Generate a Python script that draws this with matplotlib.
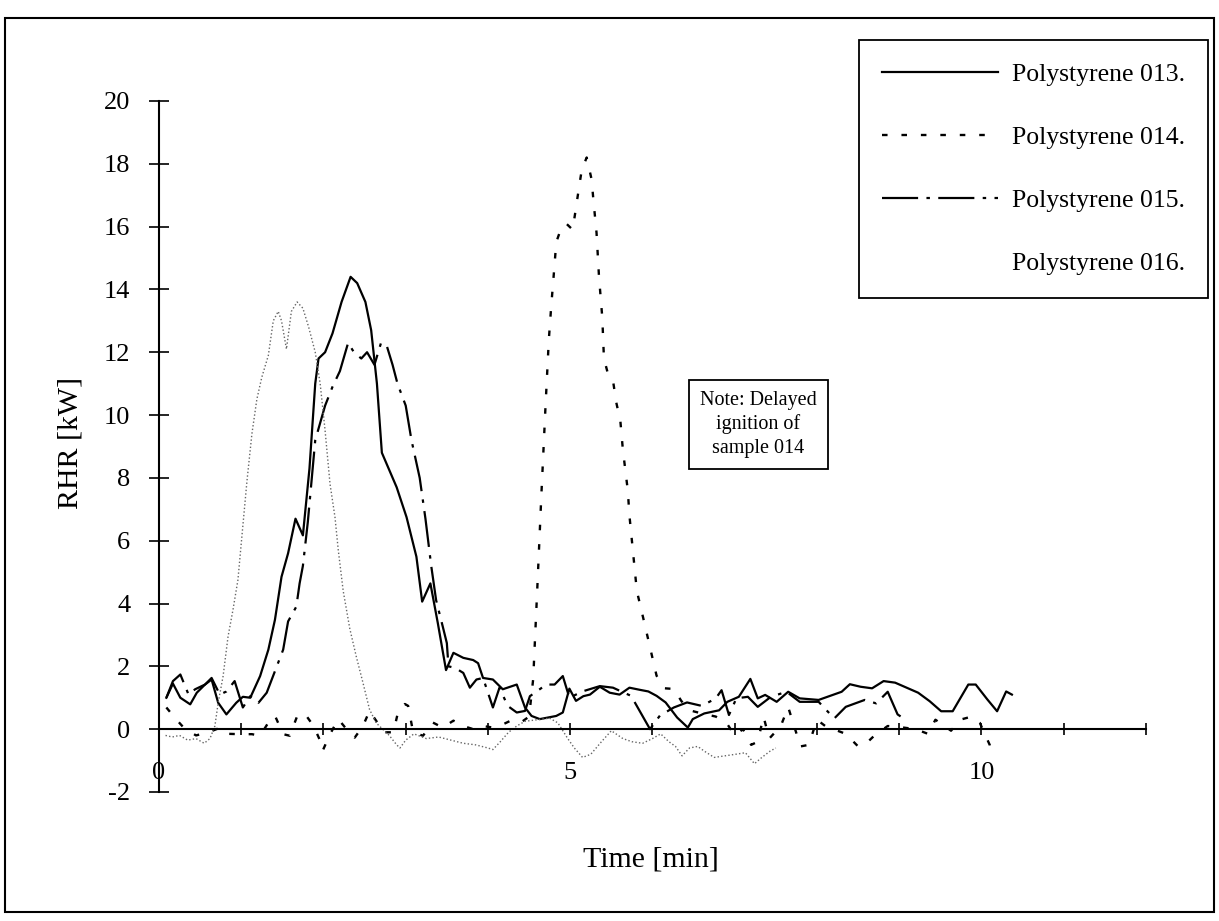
import matplotlib
matplotlib.use("Agg")
import matplotlib.pyplot as plt
from matplotlib.lines import Line2D
from matplotlib.patches import Rectangle

plt.rcParams['font.family'] = ['Liberation Serif', 'DejaVu Serif']
plt.rcParams['lines.scale_dashes'] = False

# ---------------- data ----------------
series_names = ["Polystyrene 013.", "Polystyrene 014.", "Polystyrene 015.", "Polystyrene 016."]

t013 = [0.09, 0.17, 0.26, 0.38, 0.46, 0.56, 0.64, 0.72, 0.82, 0.94, 1.02, 1.11, 1.23, 1.33,
        1.41, 1.49, 1.57, 1.66, 1.75, 1.83, 1.90, 1.94, 2.02, 2.11, 2.22, 2.33, 2.41, 2.51,
        2.58, 2.65, 2.71, 2.89, 3.01, 3.13, 3.20, 3.30, 3.39, 3.49, 3.58, 3.70, 3.82, 3.88,
        3.94, 4.06, 4.18, 4.35, 4.45, 4.53, 4.63, 4.83, 4.91, 4.99, 5.07, 5.16, 5.24, 5.36,
        5.48, 5.60, 5.72, 5.85, 5.95, 6.05, 6.16, 6.30, 6.43, 6.49, 6.63, 6.81, 6.91, 7.05,
        7.19, 7.28, 7.37, 7.51, 7.65, 7.79, 8.02, 8.30, 8.40, 8.53, 8.67, 8.81, 8.95, 9.09,
        9.23, 9.37, 9.51, 9.65, 9.84, 9.93, 10.07, 10.19, 10.30, 10.37]
v013 = [1.0, 1.45, 1.0, 0.79, 1.16, 1.42, 1.58, 0.84, 0.47, 0.84, 1.03, 1.0, 1.69, 2.53,
        3.48, 4.85, 5.6, 6.7, 6.17, 8.3, 11.0, 11.8, 12.0, 12.6, 13.6, 14.4, 14.2, 13.6,
        12.7, 11.0, 8.8, 7.7, 6.75, 5.49, 4.06, 4.64, 3.38, 1.88, 2.43, 2.27, 2.2, 2.1,
        1.63, 1.58, 1.27, 1.42, 0.69, 0.42, 0.32, 0.42, 0.53, 1.29, 0.9, 1.05, 1.1, 1.35,
        1.16, 1.1, 1.32, 1.25, 1.2, 1.06, 0.85, 0.37, 0.05, 0.32, 0.5, 0.6, 0.87, 1.03,
        1.6, 0.98, 1.09, 0.87, 1.19, 0.98, 0.93, 1.19, 1.43, 1.35, 1.3, 1.53, 1.48, 1.32,
        1.16, 0.89, 0.57, 0.57, 1.42, 1.42, 0.95, 0.57, 1.2, 1.1]

t014 = [0.09, 0.19, 0.30, 0.45, 0.60, 0.75, 0.85, 0.98, 1.13, 1.23, 1.33, 1.41, 1.51, 1.59,
        1.69, 1.79, 1.88, 1.96, 1.99, 2.08, 2.18, 2.28, 2.38, 2.48, 2.56, 2.64, 2.73, 2.85,
        2.91, 2.99, 3.03, 3.09, 3.21, 3.33, 3.45, 3.58, 3.70, 3.82, 3.94, 4.06, 4.18, 4.30,
        4.42, 4.50, 4.55, 4.60, 4.65, 4.70, 4.74, 4.77, 4.81, 4.83, 4.87, 4.95, 5.03, 5.07,
        5.11, 5.14, 5.20, 5.26, 5.28, 5.32, 5.35, 5.39, 5.41, 5.46, 5.52, 5.56, 5.61, 5.64,
        5.70, 5.72, 5.81, 5.90, 6.05, 6.15, 6.26, 6.35, 6.45, 6.60, 6.77, 6.90, 7.00, 7.10,
        7.20, 7.28, 7.35, 7.42, 7.56, 7.65, 7.80, 7.90, 8.00, 8.10, 8.35, 8.50, 8.60, 8.70,
        8.86, 9.05, 9.20, 9.35, 9.44, 9.63, 9.74, 9.88, 9.98, 10.10, 10.12]
v014 = [0.69, 0.37, 0.05, -0.2, -0.1, 0.05, -0.15, -0.16, -0.16, -0.21, 0.21, 0.43, -0.16, -0.21,
        0.48, 0.43, 0.1, -0.37, -0.69, -0.16, 0.32, 0.0, -0.27, 0.1, 0.58, 0.27, -0.1, -0.1,
        0.58, 0.8, 0.74, -0.1, -0.21, 0.21, 0.05, 0.27, 0.1, 0.0, 0.1, 0.05, 0.15, 0.3,
        0.25, 0.4, 1.6, 4.5, 7.5, 10.3, 12.4, 13.5, 14.8, 15.5, 15.8, 16.1, 15.9, 16.6,
        17.3, 17.8, 18.2, 17.5, 16.9, 15.8, 14.4, 13.1, 11.8, 11.3, 11.1, 10.4, 9.8, 8.9,
        7.6, 6.8, 4.4, 3.4, 1.7, 1.3, 1.28, 0.9, 0.6, 0.5, 0.4, 0.2, -0.2, 0.0,
        -0.5, -0.4, 0.4, -0.3, 0.1, 0.7, -0.55, -0.5, 0.3, 0.1, -0.15, -0.55, -0.45, -0.2,
        0.1, 0.05, 0.0, -0.15, 0.3, -0.05, 0.3, 0.4, 0.2, -0.5, -0.8]

t015 = [0.09, 0.17, 0.26, 0.36, 0.44, 0.56, 0.64, 0.74, 0.82, 0.92, 1.02, 1.11, 1.21, 1.31,
        1.51, 1.57, 1.67, 1.71, 1.75, 1.81, 1.90, 2.02, 2.11, 2.20, 2.30, 2.37, 2.46, 2.53,
        2.62, 2.70, 2.77, 2.84, 2.90, 3.00, 3.07, 3.17, 3.24, 3.31, 3.37, 3.45, 3.50, 3.52,
        3.60, 3.70, 3.78, 3.86, 3.94, 4.06, 4.14, 4.24, 4.35, 4.45, 4.51, 4.71, 4.81, 4.91,
        4.99, 5.07, 5.16, 5.36, 5.52, 5.62, 5.74, 5.97, 6.09, 6.26, 6.42, 6.60, 6.77, 6.84,
        6.93, 7.02, 7.16, 7.28, 7.44, 7.63, 7.79, 8.02, 8.21, 8.35, 8.58, 8.72, 8.86, 8.98,
        9.07]
v015 = [1.0, 1.53, 1.74, 1.1, 1.27, 1.42, 1.63, 1.1, 1.2, 1.53, 0.69, 1.05, 0.84, 1.16,
        2.53, 3.43, 3.9, 4.64, 5.2, 6.6, 9.2, 10.3, 10.9, 11.4, 12.3, 12.0, 11.8, 12.0,
        11.6, 12.3, 12.2, 11.6, 11.0, 10.3, 9.2, 8.0, 6.7, 5.2, 4.1, 3.27, 2.74, 2.0,
        1.95, 1.79, 1.32, 1.58, 1.63, 0.69, 1.32, 0.74, 0.53, 0.58, 1.05, 1.42, 1.42, 1.69,
        1.0, 1.1, 1.21, 1.37, 1.32, 1.2, 1.06, 0.0, 0.43, 0.69, 0.85, 0.74, 0.98, 1.24,
        0.45, 0.98, 1.03, 0.71, 1.03, 1.19, 0.87, 0.87, 0.34, 0.71, 0.93, 0.82, 1.19, 0.47,
        0.31]

t016 = [0.08, 0.16, 0.25, 0.35, 0.45, 0.55, 0.62, 0.68, 0.72, 0.78, 0.84, 0.90, 0.96, 1.00,
        1.07, 1.13, 1.19, 1.25, 1.33, 1.39, 1.45, 1.49, 1.55, 1.61, 1.68, 1.75, 1.82, 1.90,
        1.96, 2.02, 2.08, 2.14, 2.18, 2.24, 2.32, 2.40, 2.48, 2.56, 2.64, 2.72, 2.80, 2.89,
        2.93, 3.00, 3.10, 3.25, 3.40, 3.55, 3.70, 3.85, 4.00, 4.06, 4.15, 4.25, 4.35, 4.45,
        4.60, 4.75, 4.85, 4.97, 5.05, 5.15, 5.25, 5.38, 5.50, 5.64, 5.75, 5.88, 6.00, 6.10,
        6.20, 6.28, 6.36, 6.45, 6.55, 6.63, 6.75, 6.88, 7.01, 7.13, 7.24, 7.33, 7.43, 7.50]
v016 = [-0.2, -0.25, -0.2, -0.35, -0.3, -0.45, -0.3, 0.1, 0.84, 1.69, 2.95, 3.8, 4.75, 5.9,
        7.9, 9.4, 10.5, 11.2, 11.9, 13.0, 13.3, 13.0, 12.1, 13.3, 13.6, 13.4, 12.8, 12.0,
        11.0, 9.5, 7.8, 6.75, 5.7, 4.4, 3.2, 2.3, 1.48, 0.63, 0.2, 0.0, -0.2, -0.5,
        -0.6, -0.35, -0.15, -0.3, -0.25, -0.35, -0.45, -0.5, -0.6, -0.65, -0.4, -0.1, 0.1, 0.25,
        0.3, 0.35, 0.2, -0.3, -0.6, -0.9, -0.8, -0.4, -0.05, -0.3, -0.4, -0.45, -0.3, -0.15,
        -0.4, -0.55, -0.85, -0.6, -0.55, -0.7, -0.9, -0.85, -0.8, -0.75, -1.1, -0.9, -0.7, -0.6]

x_ticks = [0, 1, 2, 3, 4, 5, 6, 7, 8, 9, 10, 11, 12]
x_tick_labels = ["0", "", "", "", "", "5", "", "", "", "", "10", "", ""]
y_ticks = [-2, 0, 2, 4, 6, 8, 10, 12, 14, 16, 18, 20]
y_tick_labels = ["-2", "0", "2", "4", "6", "8", "10", "12", "14", "16", "18", "20"]

x_label = "Time [min]"
y_label = "RHR [kW]"
note_text = "Note: Delayed\nignition of\nsample 014"

# ---------------- figure ----------------
fig = plt.figure(figsize=(12.19, 9.21), dpi=100)
fig.patch.set_facecolor("white")
ax = fig.add_axes([0.1304, 0.1401, 0.8097, 0.7503])

l13, = ax.plot(t013, v013, color="black", lw=1.6)
l14, = ax.plot(t014, v014, color="black", lw=1.7, linestyle=(0, (4, 10)))
l15, = ax.plot(t015, v015, color="black", lw=1.6, linestyle=(0, (26, 6, 2.5, 6)))
l16, = ax.plot(t016, v016, color="0.4", lw=1.0, linestyle=(0, (1, 1.6)))

ax.set_xlim(0, 12)
ax.set_ylim(-2, 20)

for s in ("top", "right"):
    ax.spines[s].set_visible(False)
ax.spines["bottom"].set_position(("data", 0))
ax.spines["left"].set_position(("data", 0))
ax.spines["bottom"].set_linewidth(1.5)
ax.spines["left"].set_linewidth(1.5)

ax.set_xticks(x_ticks)
ax.set_xticklabels(x_tick_labels)
ax.set_yticks(y_ticks)
ax.set_yticklabels(y_tick_labels)
ax.tick_params(axis="x", direction="inout", length=9, width=1.2, pad=19, labelsize=19)
ax.tick_params(axis="y", direction="inout", length=15, width=1.2, pad=13, labelsize=19)

ax.set_xlabel(x_label, fontsize=21.5)
ax.xaxis.set_label_coords(0.498, -0.098)
ax.xaxis.label.set_va("center")
ax.set_ylabel(y_label, fontsize=21.5)
ax.yaxis.set_label_coords(-0.090, 0.505)
ax.yaxis.label.set_va("center")

# note box
ax.text(0.607, 0.532, note_text, transform=ax.transAxes, ha="center", va="center",
        fontsize=14.5, linespacing=1.3,
        bbox=dict(boxstyle="square,pad=0.55", fc="white", ec="black", lw=1.3))

# legend
proxy16 = Line2D([], [], linestyle="none")
leg = fig.legend([l13, l14, l15, proxy16], series_names,
                 loc="upper left", bbox_to_anchor=(0.7047, 0.9566),
                 bbox_transform=fig.transFigure, fontsize=18.5,
                 handlelength=4.5, handletextpad=0.55, labelspacing=1.56,
                 borderpad=0.9, borderaxespad=0.0, fancybox=False, framealpha=1.0,
                 edgecolor="black")
leg.get_frame().set_linewidth(1.3)

# outer border of the figure
fig.patches.append(Rectangle((0.004, 0.0098), 0.992, 0.9702, transform=fig.transFigure,
                             fill=False, ec="black", lw=1.5))

fig.savefig("out.png", dpi=100, facecolor="white")
